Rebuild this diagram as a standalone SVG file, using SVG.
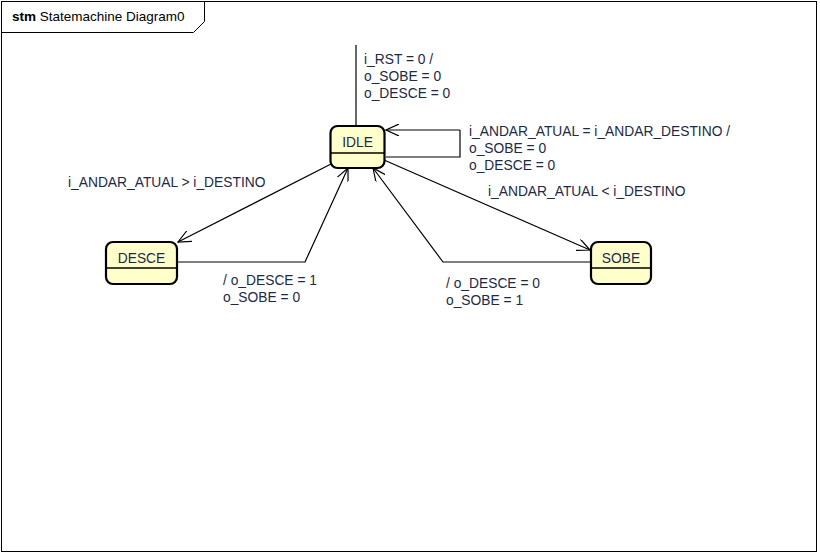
<svg xmlns="http://www.w3.org/2000/svg" width="820" height="555" viewBox="0 0 820 555">
<style>
text{font-family:"Liberation Sans",Arial,sans-serif;font-size:13.8px;fill:#1c2a48}
.st{fill:#ffffcc;stroke:#000;stroke-width:2.2}
.dv{stroke:#000;stroke-width:1.5}
.cn{fill:none;stroke:#000;stroke-width:1.2}
.nm{text-anchor:middle}
</style>
<defs>
<marker id="ar" viewBox="0 0 14 12" refX="13" refY="6" markerWidth="14" markerHeight="12" markerUnits="userSpaceOnUse" orient="auto">
<path d="M0,0 L13,6 L0,12" fill="none" stroke="#000" stroke-width="1.2"/>
</marker>
</defs>
<rect x="0" y="0" width="820" height="555" fill="#fff"/>
<g id="frame">
<rect x="1.5" y="1.5" width="815" height="550" fill="none" stroke="#000" stroke-width="1"/>
<path d="M1.5,32.5 H193.5 L204.5,21.5 V1.5" fill="none" stroke="#000" stroke-width="1"/>
<text x="12" y="21" style="font-size:13.5px"><tspan font-weight="bold" fill="#000">stm</tspan><tspan fill="#000"> Statemachine Diagram0</tspan></text>
</g>
<g id="connectors">
<path class="cn" d="M356,45 V125"/>
<path class="cn" d="M460,130 V157 H386" />
<path class="cn" d="M460,130 H386" marker-end="url(#ar)"/>
<path class="cn" d="M333,163 L178,242" marker-end="url(#ar)"/>
<path class="cn" d="M178,262 H305 L348,168" marker-end="url(#ar)"/>
<path class="cn" d="M384,160 L590,250" marker-end="url(#ar)"/>
<path class="cn" d="M590,262 H443 L373,168" marker-end="url(#ar)"/>
<text x="364" y="64">i_RST = 0 /</text>
<text x="364" y="81">o_SOBE = 0</text>
<text x="364" y="98">o_DESCE = 0</text>
<text x="469" y="136">i_ANDAR_ATUAL = i_ANDAR_DESTINO /</text>
<text x="469" y="153">o_SOBE = 0</text>
<text x="469" y="170">o_DESCE = 0</text>
<text x="68" y="187">i_ANDAR_ATUAL &gt; i_DESTINO</text>
<text x="488" y="196">i_ANDAR_ATUAL &lt; i_DESTINO</text>
<text x="223" y="285">/ o_DESCE = 1</text>
<text x="223" y="302">o_SOBE = 0</text>
<text x="446" y="288">/ o_DESCE = 0</text>
<text x="446" y="305">o_SOBE = 1</text>
</g>
<g id="IDLE">
<rect class="st" x="330.5" y="126" width="54" height="42" rx="7"/>
<line class="dv" x1="331" y1="153" x2="384" y2="153"/>
<text class="nm" x="357.5" y="147">IDLE</text>
</g>
<g id="DESCE">
<rect class="st" x="106" y="242" width="71" height="42" rx="7"/>
<line class="dv" x1="107" y1="268" x2="176" y2="268"/>
<text class="nm" x="141.5" y="263">DESCE</text>
</g>
<g id="SOBE">
<rect class="st" x="591" y="242" width="60" height="42" rx="7"/>
<line class="dv" x1="592" y1="268" x2="650" y2="268"/>
<text class="nm" x="621" y="263">SOBE</text>
</g>
</svg>
